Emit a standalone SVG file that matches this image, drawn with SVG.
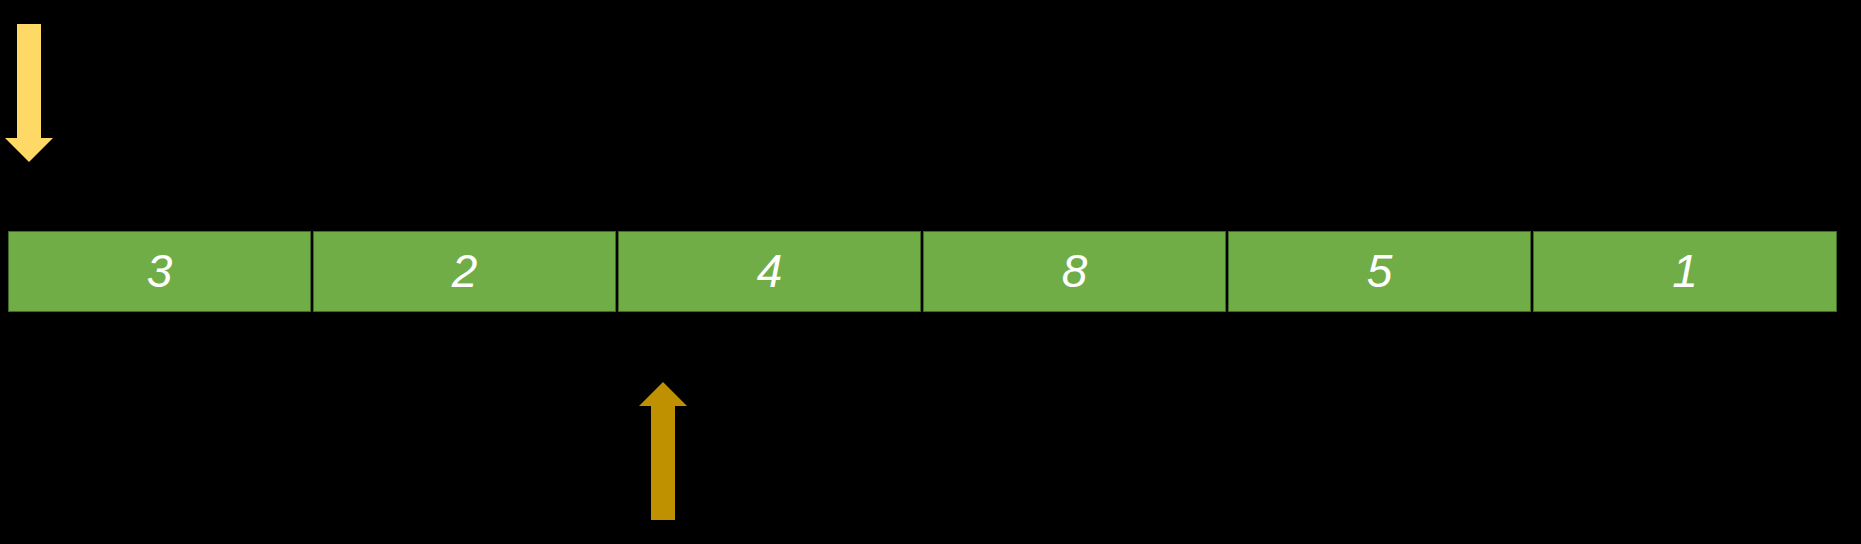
<svg xmlns="http://www.w3.org/2000/svg" width="1861" height="544" viewBox="0 0 1861 544">
<style>
.cell{fill:#70AD47;stroke:#3F6B26;stroke-width:1}
.lbl{font-family:"Liberation Sans",Arial,sans-serif;font-style:italic;font-size:46px;fill:#FFFFFF;text-anchor:middle}
</style>
<rect x="0" y="0" width="1861" height="544" fill="#000000"/>
<g id="cell1"><rect class="cell" x="8.5" y="231.5" width="302" height="80"/><text class="lbl" x="159.5" y="287">3</text></g>
<g id="cell2"><rect class="cell" x="313.5" y="231.5" width="302" height="80"/><text class="lbl" x="464.5" y="287">2</text></g>
<g id="cell3"><rect class="cell" x="618.5" y="231.5" width="302" height="80"/><text class="lbl" x="769.5" y="287">4</text></g>
<g id="cell4"><rect class="cell" x="923.5" y="231.5" width="302" height="80"/><text class="lbl" x="1074.5" y="287">8</text></g>
<g id="cell5"><rect class="cell" x="1228.5" y="231.5" width="302" height="80"/><text class="lbl" x="1379.5" y="287">5</text></g>
<g id="cell6"><rect class="cell" x="1533.5" y="231.5" width="303" height="80"/><text class="lbl" x="1685" y="287">1</text></g>
<g id="connectors">
<polygon id="arrow-down" fill="#FFD966" points="17,24 41,24 41,138 53,138 29,162 5,138 17,138"/>
<polygon id="arrow-up" fill="#BF9000" points="651,520 675,520 675,406 687,406 663,382 639,406 651,406"/>
</g>
</svg>
